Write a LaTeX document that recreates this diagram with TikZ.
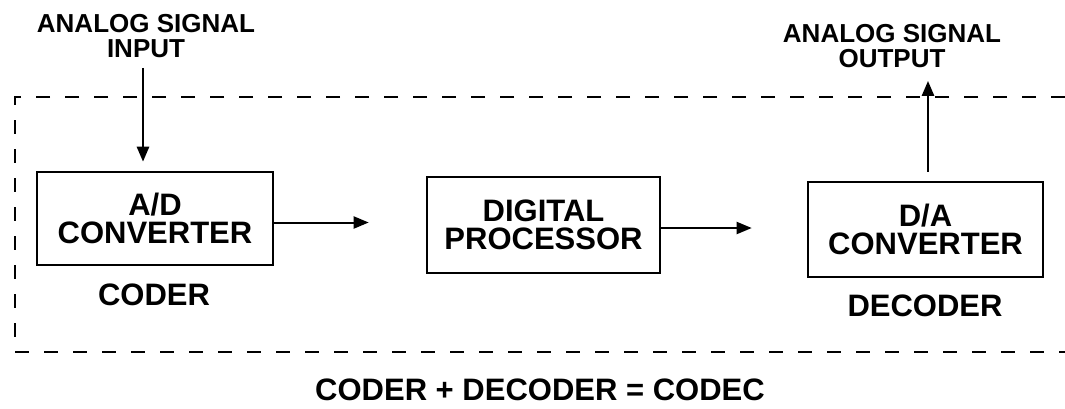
\documentclass[tikz,border=0pt]{standalone}
\usepackage{fontspec}
\setmainfont{Liberation Sans}
\usetikzlibrary{arrows.meta}
\begin{document}
\begin{tikzpicture}[x=1pt,y=-1pt,
  lbl/.style={font=\bfseries\fontsize{26}{25}\selectfont, align=center, inner sep=0pt},
  txt/.style={font=\bfseries\fontsize{31}{28}\selectfont, align=center, inner sep=0pt},
  blk/.style={draw, line width=2.6pt, font=\bfseries\fontsize{31}{28.5}\selectfont, align=center, inner sep=0pt},
  arr/.style={line width=2pt, -{Triangle[length=15pt,width=12pt]}},
  frame/.style={line width=2.8pt, dash pattern=on 14pt off 15pt}]
\useasboundingbox (0,0) rectangle (1065,408);
% dashed enclosure (open on the right)
\draw[frame] (1065,97) -- (15,97) -- (15,352) -- (1065,352);
% blocks
\node[blk, minimum width=236pt, minimum height=93pt] (ad) at (155,218.5) {A/D\\CONVERTER};
\node[blk, minimum width=233pt, minimum height=96pt] (dp) at (543.5,225) {DIGITAL\\PROCESSOR};
\node[blk, minimum width=235pt, minimum height=95pt] (da) at (925.5,229.5) {D/A\\CONVERTER};
% labels
\node[lbl] (inl) at (146,36) {ANALOG SIGNAL\\INPUT};
\node[lbl] (outl) at (892,46) {ANALOG SIGNAL\\OUTPUT};
\node[txt] (coder) at (154,295) {CODER};
\node[txt] (decoder) at (925,306) {DECODER};
\node[txt] (codec) at (540,390) {CODER + DECODER = CODEC};
% connectors
\draw[arr, line width=2.6pt, shorten <=10pt, shorten >=9pt] (inl.south -| 143,0) -- (143,0 |- ad.north);
\draw[arr, shorten >=57pt] ([yshift=-4pt]ad.east) -- ([yshift=-4pt]ad.east -| dp.west);
\draw[arr, shorten >=55pt] ([yshift=-3pt]dp.east) -- ([yshift=-3pt]dp.east -| da.west);
\draw[arr, line width=2.6pt, shorten <=9pt, shorten >=13pt] (928,0 |- da.north) -- (928,0 |- outl.south);
\end{tikzpicture}
\end{document}
